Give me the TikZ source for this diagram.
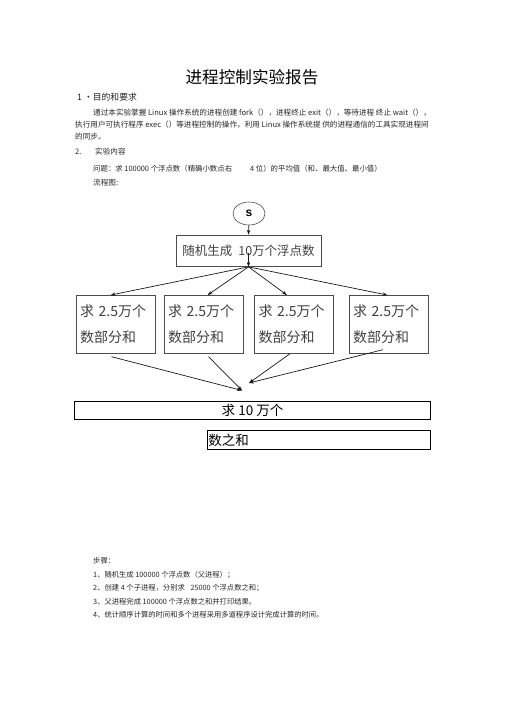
\documentclass[tikz,border=0pt]{standalone}
\usepackage{fontspec}
\setmainfont{Noto Sans CJK SC}
\newfontfamily\latinsf{Liberation Sans}
\usetikzlibrary{shapes.geometric,arrows.meta}
\newcommand\fsize[1]{\fontsize{#1}{#1}\selectfont}

\begin{document}
\begin{tikzpicture}[x=1pt,y=-1pt,every node/.style={inner sep=0pt},
  txt/.style={anchor=west,font=\fsize{7.6},text=black!85},
  steptxt/.style={anchor=west,font=\fsize{7.3},text=black!85},
  partbox/.style={draw=black!70,line width=0.6pt,text width=71pt,align=left,
    inner sep=4pt,minimum height=58pt,text=black!75,font=\fontsize{14}{26}\selectfont},
  sumbox/.style={draw,line width=0.8pt,inner sep=1pt,font=\fsize{13.5}},
  arr/.style={->,>={Stealth[length=5pt,width=3.5pt]},line width=0.7pt,black!90}]
  \useasboundingbox (0,0) rectangle (505,714);

  \node [font=\fsize{16.6}] (title) at (252,77) {进程控制实验报告};
  \node [txt,font=\fsize{8.8}] (aim) at (77,97) {1 •目的和要求};
  \node [txt] (para1) at (93,113)
    {通过本实验掌握 Linux 操作系统的进程创建 fork（），进程终止 exit（），等待进程 终止 wait（），};
  \node [txt] (para2) at (75,125)
    {执行用户可执行程序 exec（）等进程控制的操作，利用 Linux 操作系统提 供的进程通信的工具实现进程间};
  \node [txt] (para3) at (75,137) {的同步。};
  \node [txt] (secnum) at (75,151.5) {2.};
  \node [txt] (sec) at (95,151.5) {实验内容};
  \node [txt,font=\fsize{7.4}] (ask) at (93,169)
    {问题：求 100000 个浮点数（精确小数点右\hspace{18pt}4 位）的平均值（和、最大值、最小值）};
  \node [txt] (chart) at (93,183) {流程图:};

  % flow chart
  \node [draw=black!70,line width=0.6pt,ellipse,minimum width=32pt,minimum height=23pt,
    font=\latinsf\bfseries\fsize{12}] (start) at (249,213.5) {s};
  \node [draw=black!70,line width=0.6pt,minimum width=145pt,minimum height=31.5pt,
    font=\fsize{12.5},text=black!75] (gen) at (248.5,250.8) {随机生成\hspace{6pt}10万个浮点数};
  \draw [arr] (start) -- (gen.north);
  \draw [arr] ([yshift=-2pt]gen.center) -- (gen.south);

  \foreach \x/\n in {115.5/1,203.5/2,294/3,388.5/4}
    \node [partbox] (part\n) at (\x,324.4) {求 2.5万个\\数部分和};
  \foreach \n/\dx in {1/-5,2/4,3/-7,4/-1}
    \draw [arr] (gen.south) -- ([xshift=\dx pt]part\n.north);

  \coordinate (joinA) at (242,390.5);
  \coordinate (joinB) at (249,383);
  \draw [arr] ([xshift=-4pt,yshift=-3pt]part1.south) -- (joinA);
  \draw [arr] ([xshift=5pt,yshift=-3pt]part2.south) -- (joinA);
  \draw [arr] ([xshift=-4pt]part3.south) -- (joinB);
  \draw [arr] ([xshift=-5.5pt,yshift=4pt]part4.south) -- (joinB); % starts inside the box

  \node [sumbox,minimum width=356.4pt,minimum height=17.6pt] (sumA) at (252.5,410.5) {求 10 万个};
  \node [sumbox,text width=221.4pt,minimum height=18.6pt,align=left] (sumB) at (319,440) {数之和};

  % steps
  \node [steptxt] (steps) at (93,561) {步骤：};
  \node [steptxt] (step1) at (93,574.5) {1、随机生成 100000 个浮点数（父进程）；};
  \node [steptxt] (step2) at (93,588) {2、创建 4 个子进程，分别求\hspace{4pt} 25000 个浮点数之和；};
  \node [steptxt] (step3) at (93,601.5) {3、父进程完成 100000 个浮点数之和并打印结果。};
  \node [steptxt] (step4) at (93,615) {4、统计顺序计算的时间和多个进程采用多道程序设计完成计算的时间。};

\end{tikzpicture}
\end{document}
